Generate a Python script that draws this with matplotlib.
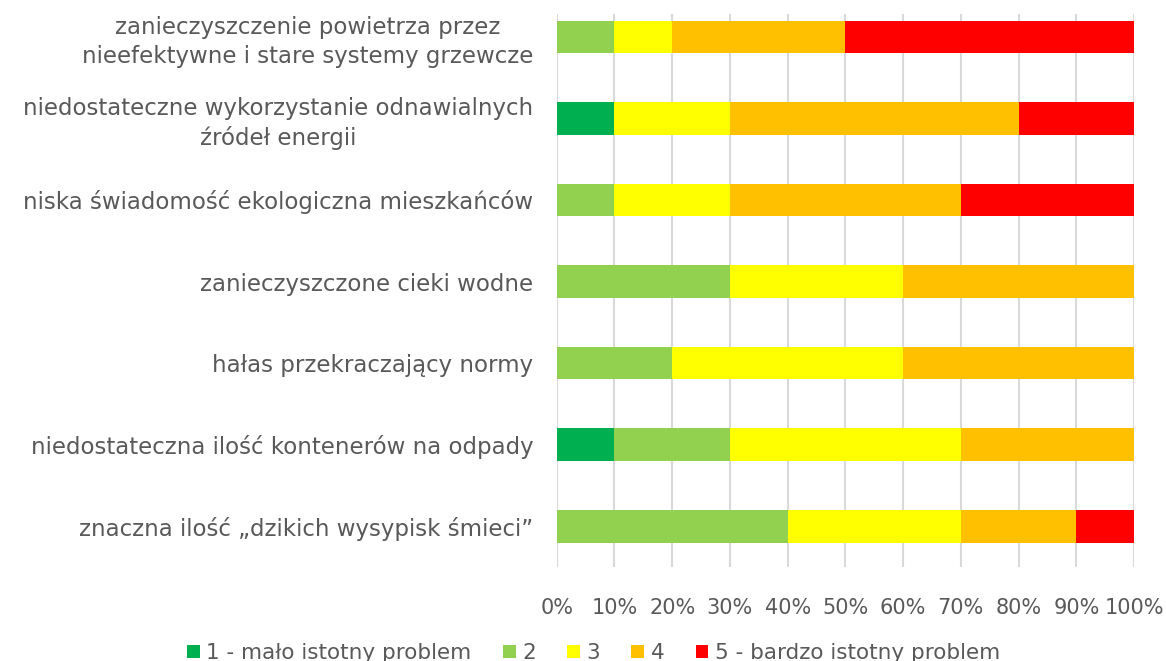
import matplotlib
matplotlib.use("Agg")
import matplotlib.pyplot as plt
from matplotlib.patches import Patch

# categories, top to bottom as shown
categories = [
    "zanieczyszczenie powietrza przez\nnieefektywne i stare systemy grzewcze",
    "niedostateczne wykorzystanie odnawialnych\nźródeł energii",
    "niska świadomość ekologiczna mieszkańców",
    "zanieczyszczone cieki wodne",
    "hałas przekraczający normy",
    "niedostateczna ilość kontenerów na odpady",
    "znaczna ilość „dzikich wysypisk śmieci”",
]

# percent of answers per rating, same order as categories
rating_1 = [0, 10, 0, 0, 0, 10, 0]
rating_2 = [10, 0, 10, 30, 20, 20, 40]
rating_3 = [10, 20, 20, 30, 40, 40, 30]
rating_4 = [30, 50, 40, 40, 40, 30, 20]
rating_5 = [50, 20, 30, 0, 0, 0, 10]

series_names = ["1 - mało istotny problem", "2", "3", "4", "5 - bardzo istotny problem"]
colors = ["#00B050", "#92D050", "#FFFF00", "#FFC000", "#FF0000"]

ticks = list(range(0, 101, 10))
tick_labels = [f"{t}%" for t in ticks]

text_color = "#595959"
plt.rcParams["font.family"] = ["DejaVu Sans"]

fig = plt.figure(figsize=(11.66, 6.61), dpi=100)
ax = fig.add_axes([0.4775, 0.1422, 0.4951, 0.8366])

ypos = list(range(len(categories)))
left = [0] * len(categories)
for vals, name, col in zip([rating_1, rating_2, rating_3, rating_4, rating_5], series_names, colors):
    ax.barh(ypos, vals, left=left, height=0.4, color=col, label=name, zorder=3)
    left = [l + v for l, v in zip(left, vals)]

ax.set_xlim(0, 100)
ax.set_ylim(6.5, -0.28)
ax.set_xticks(ticks)
ax.set_xticklabels(tick_labels)
ax.set_yticks(ypos)
ax.set_yticklabels(categories, multialignment="center", linespacing=1.3)
ax.tick_params(axis="both", length=0, colors=text_color)
ax.tick_params(axis="y", pad=17, labelsize=16.5)
ax.tick_params(axis="x", pad=22, labelsize=15)
ax.grid(axis="x", color="#D9D9D9", linewidth=1.5, zorder=0)
for s in ax.spines.values():
    s.set_visible(False)

handles = [Patch(facecolor=c) for c in colors]
fig.legend(handles, series_names, loc="center", bbox_to_anchor=(0.509, 0.012),
           ncol=5, frameon=False, fontsize=15.5, labelcolor=text_color,
           handlelength=0.6, handleheight=0.6, handletextpad=0.3, columnspacing=1.45)

fig.savefig("out.png", dpi=100)
